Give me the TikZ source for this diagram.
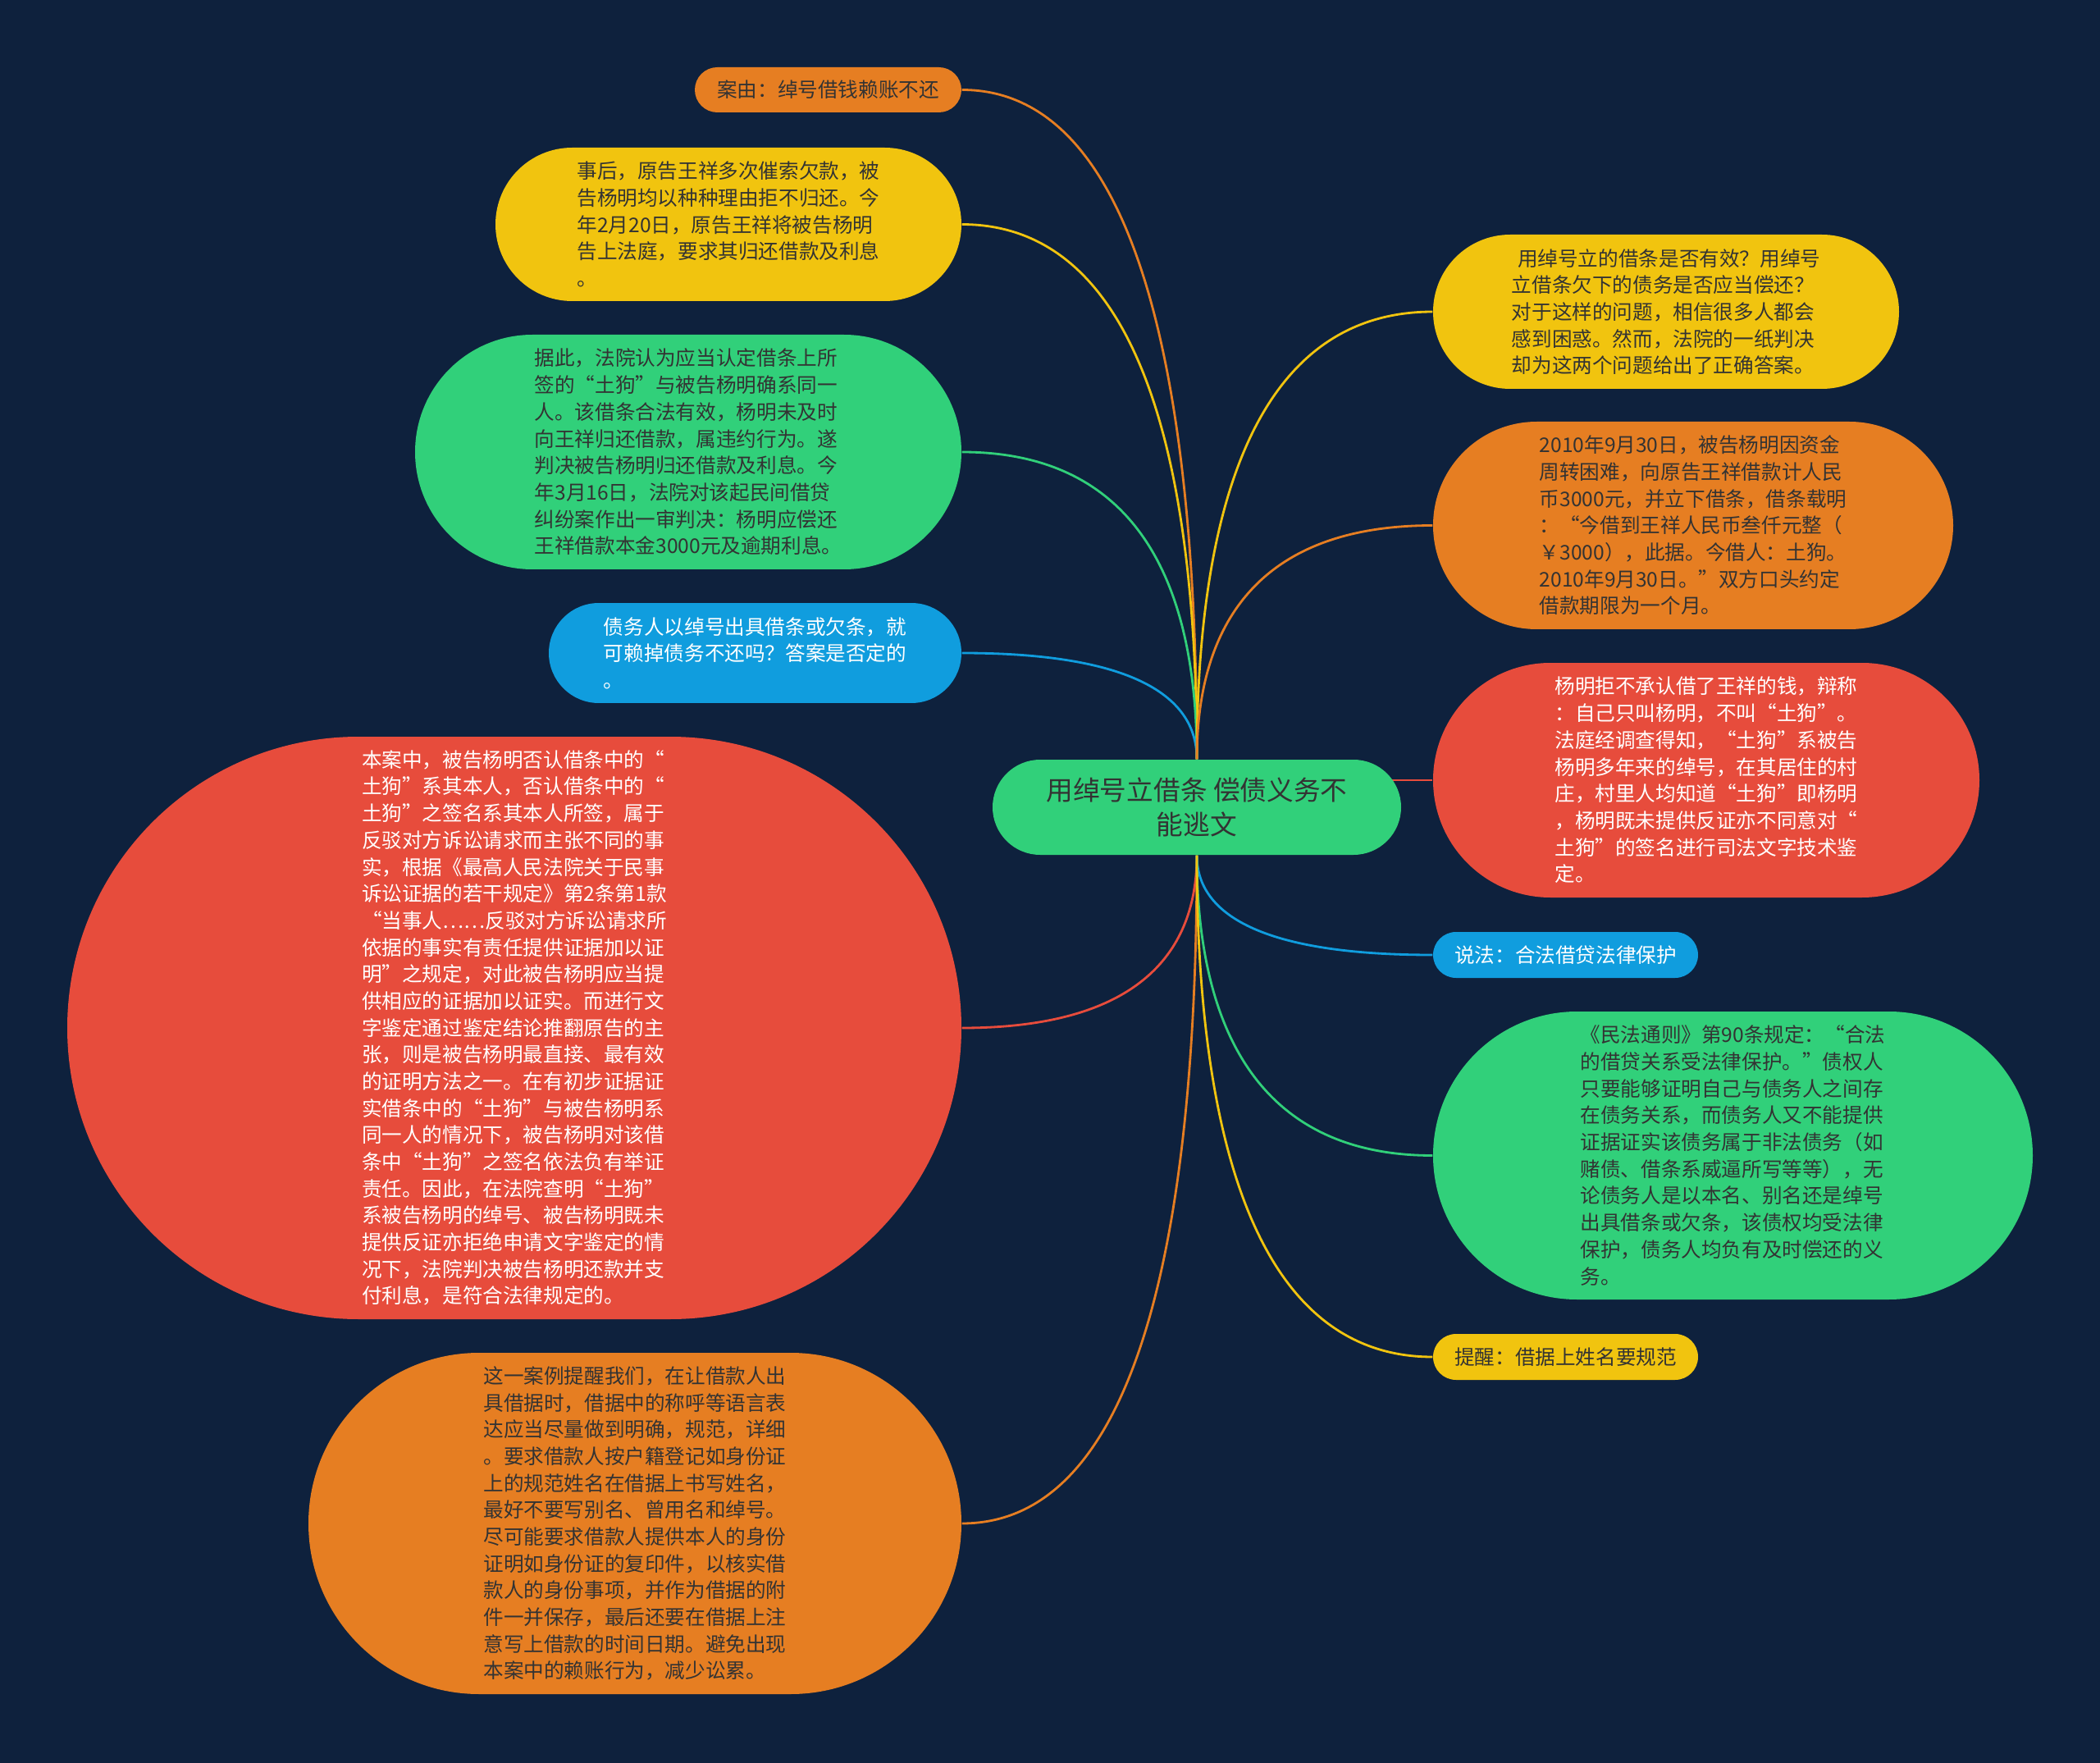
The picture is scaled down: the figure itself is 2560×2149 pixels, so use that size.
\documentclass[tikz,border=0pt]{standalone}
\usepackage{fontspec}
\setmainfont{Noto Sans CJK SC}
\usetikzlibrary{shapes.misc,backgrounds}
\definecolor{bgnavy}{HTML}{0E213D}
\definecolor{mmorange}{HTML}{E67E22}
\definecolor{mmyellow}{HTML}{F1C40F}
\definecolor{mmgreen}{HTML}{31D07A}
\definecolor{mmblue}{HTML}{109DDE}
\definecolor{mmred}{HTML}{E74C3C}
\definecolor{darktext}{HTML}{333333}

\begin{document}
\begin{tikzpicture}[x=0.1mm,y=-0.1mm,
    bubble/.style={shape=rounded rectangle,inner sep=0.6mm,align=left,
      font=\fontsize{7pt}{9.3pt}\selectfont},
    dark/.style={text=darktext},
    light/.style={text=white},
    link/.style={line width=0.8pt}]
  % Background
  \begin{scope}[on background layer]
    \fill[bgnavy] (0,0) rectangle (2560,2149);
  \end{scope}
  \useasboundingbox (0,0) rectangle (2560,2149);
  % Central topic
  \node[bubble,dark,fill=mmgreen,minimum width=51mm,minimum height=11.6mm,align=center,
    font=\fontsize{9.3pt}{12pt}\selectfont] (topic) at (1459,984) {用绰号立借条 偿债义务不\\能逃文};
  % Left branches
  \node[bubble,dark,fill=mmorange,minimum width=33.7mm,minimum height=5.5mm] (cause) at (1009.5,109.5) {案由：绰号借钱赖账不还};
  \node[bubble,dark,fill=mmyellow,minimum width=58mm,minimum height=18.7mm] (pursue) at (888,273.5) {事后，原告王祥多次催索欠款，被\\告杨明均以种种理由拒不归还。今\\年2月20日，原告王祥将被告杨明\\告上法庭，要求其归还借款及利息\\。};
  \node[bubble,dark,fill=mmgreen,minimum width=67.8mm,minimum height=28.6mm] (ruling) at (839,551) {据此，法院认为应当认定借条上所\\签的“土狗”与被告杨明确系同一\\人。该借条合法有效，杨明未及时\\向王祥归还借款，属违约行为。遂\\判决被告杨明归还借款及利息。今\\年3月16日，法院对该起民间借贷\\纠纷案作出一审判决：杨明应偿还\\王祥借款本金3000元及逾期利息。};
  \node[bubble,light,fill=mmblue,minimum width=51.5mm,minimum height=12.2mm] (question) at (920.5,796) {债务人以绰号出具借条或欠条，就\\可赖掉债务不还吗？答案是否定的\\。};
  \node[bubble,light,fill=mmred,minimum width=110.2mm,minimum height=71mm] (analysis) at (627,1253) {本案中，被告杨明否认借条中的“\\土狗”系其本人，否认借条中的“\\土狗”之签名系其本人所签，属于\\反驳对方诉讼请求而主张不同的事\\实，根据《最高人民法院关于民事\\诉讼证据的若干规定》第2条第1款\\“当事人……反驳对方诉讼请求所\\依据的事实有责任提供证据加以证\\明”之规定，对此被告杨明应当提\\供相应的证据加以证实。而进行文\\字鉴定通过鉴定结论推翻原告的主\\张，则是被告杨明最直接、最有效\\的证明方法之一。在有初步证据证\\实借条中的“土狗”与被告杨明系\\同一人的情况下，被告杨明对该借\\条中“土狗”之签名依法负有举证\\责任。因此，在法院查明“土狗”\\系被告杨明的绰号、被告杨明既未\\提供反证亦拒绝申请文字鉴定的情\\况下，法院判决被告杨明还款并支\\付利息，是符合法律规定的。};
  \node[bubble,dark,fill=mmorange,minimum width=80.8mm,minimum height=41.6mm] (lesson) at (774,1857) {这一案例提醒我们，在让借款人出\\具借据时，借据中的称呼等语言表\\达应当尽量做到明确，规范，详细\\。要求借款人按户籍登记如身份证\\上的规范姓名在借据上书写姓名，\\最好不要写别名、曾用名和绰号。\\尽可能要求借款人提供本人的身份\\证明如身份证的复印件，以核实借\\款人的身份事项，并作为借据的附\\件一并保存，最后还要在借据上注\\意写上借款的时间日期。避免出现\\本案中的赖账行为，减少讼累。};
  % Right branches
  \node[bubble,dark,fill=mmyellow,minimum width=58mm,minimum height=18.8mm] (intro) at (2031,380) {\hspace{0.3em}用绰号立的借条是否有效？用绰号\\立借条欠下的债务是否应当偿还？\\对于这样的问题，相信很多人都会\\感到困惑。然而，法院的一纸判决\\却为这两个问题给出了正确答案。};
  \node[bubble,dark,fill=mmorange,minimum width=64.6mm,minimum height=25.3mm] (loan) at (2064,640.5) {2010年9月30日，被告杨明因资金\\周转困难，向原告王祥借款计人民\\币3000元，并立下借条，借条载明\\：“今借到王祥人民币叁仟元整（\\￥3000），此据。今借人：土狗。\\2010年9月30日。”双方口头约定\\借款期限为一个月。};
  \node[bubble,light,fill=mmred,minimum width=67.8mm,minimum height=28.6mm] (refuse) at (2080,951) {杨明拒不承认借了王祥的钱，辩称\\：自己只叫杨明，不叫“土狗”。\\法庭经调查得知，“土狗”系被告\\杨明多年来的绰号，在其居住的村\\庄，村里人均知道“土狗”即杨明\\，杨明既未提供反证亦不同意对“\\土狗”的签名进行司法文字技术鉴\\定。};
  \node[bubble,light,fill=mmblue,minimum width=33.5mm,minimum height=5.6mm] (saying) at (1908.5,1164) {说法：合法借贷法律保护};
  \node[bubble,dark,fill=mmgreen,minimum width=74.3mm,minimum height=35.1mm] (law) at (2112.5,1408.5) {《民法通则》第90条规定：“合法\\的借贷关系受法律保护。”债权人\\只要能够证明自己与债务人之间存\\在债务关系，而债务人又不能提供\\证据证实该债务属于非法债务（如\\赌债、借条系威逼所写等等），无\\论债务人是以本名、别名还是绰号\\出具借条或欠条，该债权均受法律\\保护，债务人均负有及时偿还的义\\务。};
  \node[bubble,dark,fill=mmyellow,minimum width=33.5mm,minimum height=5.6mm] (remind) at (1908.5,1654) {提醒：借据上姓名要规范};
  % Connectors
  \begin{scope}[on background layer]
    \draw[link,mmorange] (topic.north) .. controls +(0,-408) and +(230,0) .. (cause.east);
    \draw[link,mmyellow] (topic.north) .. controls +(0,-326) and +(230,0) .. (pursue.east);
    \draw[link,mmgreen] (topic.north) .. controls +(0,-188) and +(230,0) .. (ruling.east);
    \draw[link,mmblue] (topic.north) .. controls +(0,-65) and +(230,0) .. (question.east);
    \draw[link,mmred] (topic.south) .. controls +(0,105) and +(230,0) .. (analysis.east);
    \draw[link,mmorange] (topic.south) .. controls +(0,408) and +(230,0) .. (lesson.east);
    \draw[link,mmyellow] (topic.north) .. controls +(0,-273) and +(-230,0) .. (intro.west);
    \draw[link,mmorange] (topic.north) .. controls +(0,-143) and +(-230,0) .. (loan.west);
    \draw[link,mmred] (topic.center |- refuse.west) -- (refuse.west);
    \draw[link,mmblue] (topic.south) .. controls +(0,61) and +(-230,0) .. (saying.west);
    \draw[link,mmgreen] (topic.south) .. controls +(0,183) and +(-230,0) .. (law.west);
    \draw[link,mmyellow] (topic.south) .. controls +(0,306) and +(-230,0) .. (remind.west);
  \end{scope}
\end{tikzpicture}
\end{document}
